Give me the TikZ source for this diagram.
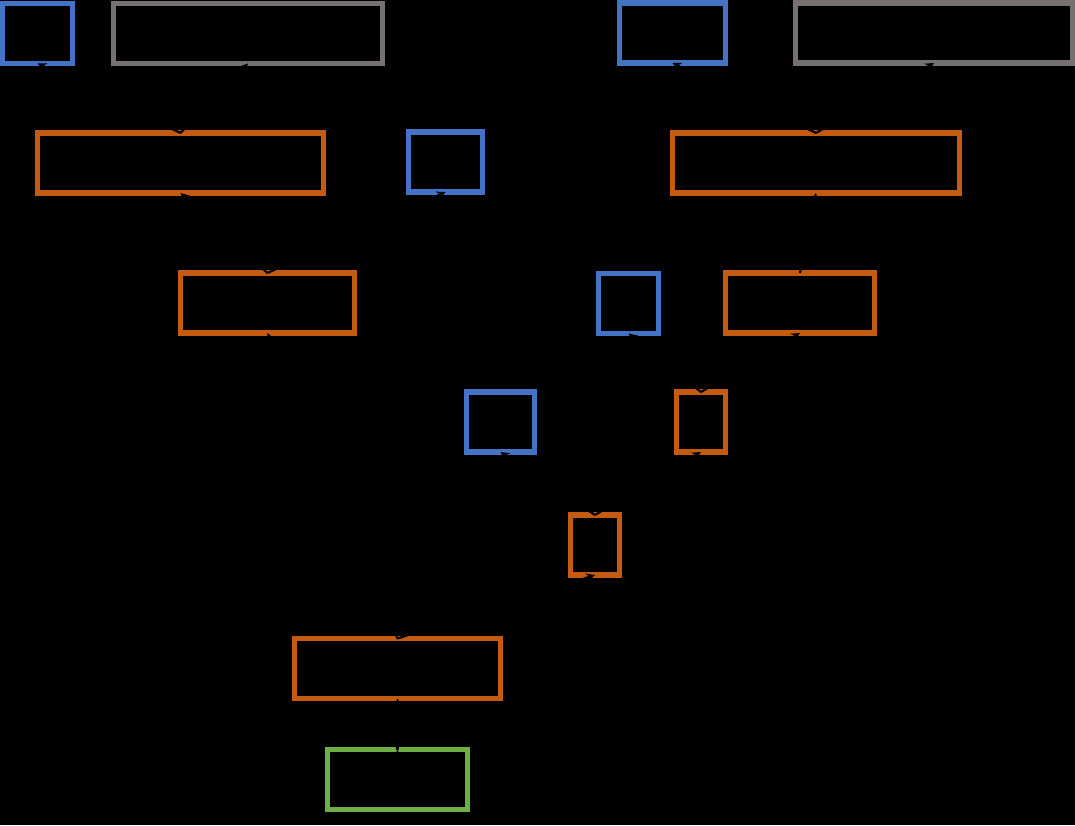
\documentclass[tikz,border=0pt]{standalone}
\usepackage{tikz}
\usetikzlibrary{arrows}
\definecolor{leafblue}{RGB}{68,114,196}
\definecolor{paramgray}{RGB}{118,113,113}
\definecolor{oporange}{RGB}{197,90,17}
\definecolor{resgreen}{RGB}{112,173,71}
\tikzstyle{leafbox}=[%
      rectangle, draw=leafblue, line width=2.9pt, fill=none,
      minimum height=1.2cm, inner sep=0pt, outer sep=0pt
]
\tikzstyle{parambox}=[%
      rectangle, draw=paramgray, line width=2.9pt, fill=none,
      minimum height=1.2cm, inner sep=0pt, outer sep=0pt
]
\tikzstyle{opbox}=[%
      rectangle, draw=oporange, line width=2.9pt, fill=none,
      minimum height=1.2cm, inner sep=0pt, outer sep=0pt
]
\tikzstyle{resultbox}=[%
      rectangle, draw=resgreen, line width=2.9pt, fill=none,
      minimum height=1.2cm, inner sep=0pt, outer sep=0pt
]
\begin{document}
\begin{tikzpicture}[x=0.02cm, y=-0.02cm,
    ->,
    >=stealth
  ]
    \fill[black] (0,0) rectangle (1075,825);
    \useasboundingbox (0,0) rectangle (1075,825);

    \node[leafbox, minimum width=1.4cm]    (0)  at (37.5,33.5) {};
    \node[parambox, minimum width=5.38cm]  (1)  at (248,33.5)  {};
    \node[leafbox, minimum width=2.12cm]   (2)  at (672.5,33)  {};
    \node[parambox, minimum width=5.54cm]  (3)  at (934,33)    {};
    \node[opbox, minimum width=5.72cm]     (4)  at (180.5,163) {};
    \node[leafbox, minimum width=1.48cm]   (5)  at (445.5,162) {};
    \node[opbox, minimum width=5.74cm]     (6)  at (816,163)   {};
    \node[opbox, minimum width=3.48cm]     (7)  at (267.5,303) {};
    \node[leafbox, minimum width=1.2cm]    (8)  at (628.5,303.5) {};
    \node[opbox, minimum width=2.98cm]     (9)  at (800,303)   {};
    \node[leafbox, minimum width=1.36cm]   (10) at (500.5,422) {};
    \node[opbox, minimum width=0.98cm]     (11) at (701,422)   {};
    \node[opbox, minimum width=0.98cm]     (12) at (595,545)   {};
    \node[opbox, minimum width=4.12cm]     (13) at (397.5,668.5) {};
    \node[resultbox, minimum width=2.8cm]  (14) at (397.5,779.5) {};

    \path[draw=black, line width=1.2pt]
          (4.north)  edge (0.south)
          (4.north)  edge (1.south)
          (6.north)  edge (2.south)
          (6.north)  edge (3.south)
          (7.north)  edge (4.south)
          (7.north)  edge (5.south)
          (9.north)  edge (6.south)
          (11.north) edge (8.south)
          (11.north) edge (9.south)
          (12.north) edge (10.south)
          (12.north) edge (11.south)
          (13.north) edge (7.south)
          (13.north) edge (12.south)
          (14.north) edge (13.south)
    ;

  \end{tikzpicture}
\end{document}
